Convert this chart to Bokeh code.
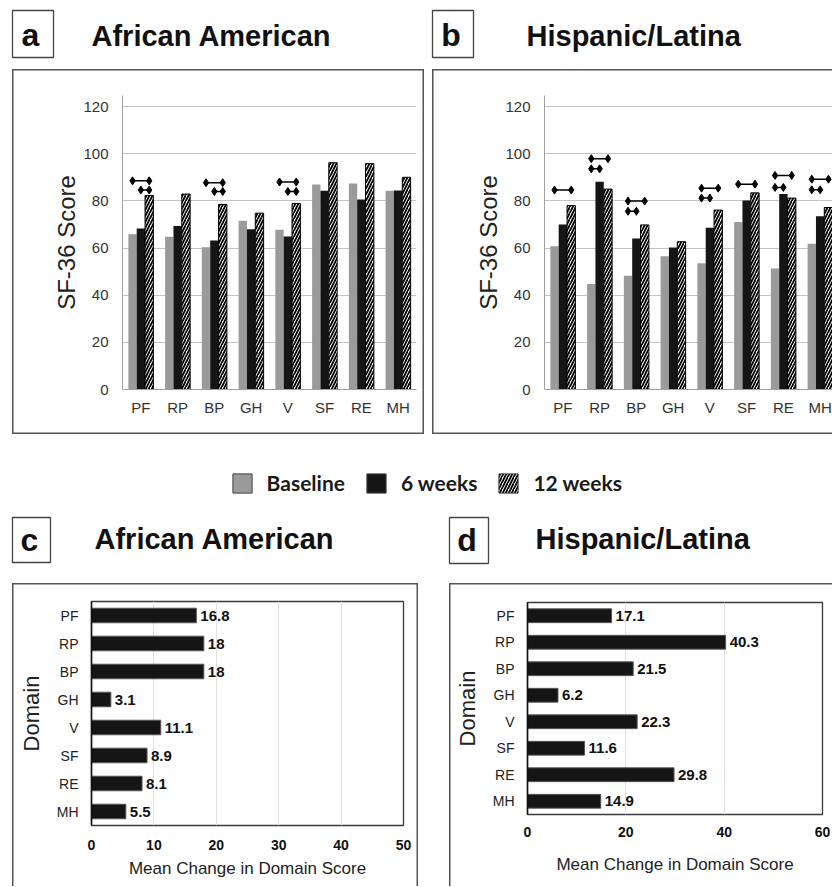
from bokeh.plotting import figure
from bokeh.models import (ColumnDataSource, FixedTicker, LabelSet, Legend, LegendItem,
                          FactorRange, Range1d)
from bokeh.layouts import column, row
from bokeh.transform import dodge
from bokeh.core.properties import value
from bokeh.embed import file_html
from bokeh.resources import INLINE

# ---------------- data ----------------
domains = ["PF", "RP", "BP", "GH", "V", "SF", "RE", "MH"]
series = ["Baseline", "6 weeks", "12 weeks"]

aa_baseline = [65.8, 64.8, 60.3, 71.6, 67.8, 87.0, 87.4, 84.3]
aa_6wk = [68.3, 69.3, 63.2, 68.0, 64.9, 84.3, 80.6, 84.4]
aa_12wk = [82.3, 82.9, 78.5, 74.8, 78.9, 96.2, 95.8, 90.0]

hl_baseline = [60.8, 44.8, 48.3, 56.5, 53.5, 71.0, 51.3, 61.8]
hl_6wk = [70.0, 88.1, 64.0, 60.2, 68.6, 80.2, 82.9, 73.5]
hl_12wk = [78.0, 85.0, 69.8, 62.7, 76.1, 83.4, 81.2, 77.2]

# significance brackets (domain, from series, to series, level)
aa_sig_domain = ["PF", "PF", "BP", "BP", "V", "V"]
aa_sig_from = ["Baseline", "6 weeks", "Baseline", "6 weeks", "Baseline", "6 weeks"]
aa_sig_to = ["12 weeks"] * 6
aa_sig_level = [88.5, 84.6, 87.7, 84.0, 88.0, 84.0]

hl_sig_domain = ["PF", "RP", "RP", "BP", "BP", "V", "V", "SF", "RE", "RE", "MH", "MH"]
hl_sig_from = ["Baseline"] * 12
hl_sig_to = ["12 weeks", "12 weeks", "6 weeks", "12 weeks", "6 weeks", "12 weeks", "6 weeks",
             "12 weeks", "12 weeks", "6 weeks", "12 weeks", "6 weeks"]
hl_sig_level = [84.6, 97.9, 93.6, 79.9, 75.6, 85.4, 81.2, 87.1, 90.8, 85.7, 89.2, 84.7]

aa_change = [16.8, 18, 18, 3.1, 11.1, 8.9, 8.1, 5.5]
hl_change = [17.1, 40.3, 21.5, 6.2, 22.3, 11.6, 29.8, 14.9]

y_ticks_sf = [0, 20, 40, 60, 80, 100, 120]
aa_change_ticks = [0, 10, 20, 30, 40, 50]
hl_change_ticks = [0, 20, 40, 60]

panel_letters = ["a", "b", "c", "d"]
panel_titles = ["African American", "Hispanic/Latina", "African American", "Hispanic/Latina"]

# ---------------- style ----------------
FONT = "Liberation Sans"
BAR_W = 0.227
OFFS = {"Baseline": -BAR_W, "6 weeks": 0.0, "12 weeks": BAR_W}
GRAY = "#9a9a9a"
BLACK = "#151515"
EDGE = "#555555"
HATCH = dict(hatch_pattern="/", hatch_color="black", hatch_scale=6, hatch_weight=1.8)


def panel_style(sides):
    shadows = []
    if "l" in sides:
        shadows.append(f"inset 1.5px 0 0 0 {EDGE}")
    if "r" in sides:
        shadows.append(f"inset -1.5px 0 0 0 {EDGE}")
    if "t" in sides:
        shadows.append(f"inset 0 1.5px 0 0 {EDGE}")
    if "b" in sides:
        shadows.append(f"inset 0 -1.5px 0 0 {EDGE}")
    return {"box-shadow": ", ".join(shadows)}


def header(y0, h, letters, titles, boxes, letter_pos, title_pos):
    p = figure(width=832, height=h, x_range=Range1d(0, 832), y_range=Range1d(y0 + h, y0),
               output_backend="svg", toolbar_location=None, tools="", min_border=0,
               x_axis_location=None, y_axis_location=None)
    p.outline_line_color = None
    p.grid.visible = False
    p.quad(left=[b[0] for b in boxes], right=[b[2] for b in boxes],
           top=[b[1] for b in boxes], bottom=[b[3] for b in boxes], fill_color=None,
           line_color="#444444", line_width=1.3)
    p.text(x=[q[0] for q in letter_pos], y=[q[1] for q in letter_pos], text=letters,
           text_font=value(FONT), text_font_style="bold", text_font_size="32px",
           text_align="center", text_baseline="middle", text_color="#111111")
    p.text(x=[q[0] for q in title_pos], y=[q[1] for q in title_pos], text=titles,
           text_font=value(FONT), text_font_style="bold", text_font_size="29px",
           text_align="left", text_baseline="middle", text_color="#111111")
    return p


def bar_panel(width, height, borders, x_end, base, wk6, wk12, sig_dom, sig_from, sig_to, sig_lvl,
              margin, sides):
    p = figure(width=width, height=height, x_range=Range1d(-0.5, x_end),
               y_range=Range1d(0, 124.7),
               output_backend="svg", toolbar_location=None, tools="",
               min_border_left=borders[0], min_border_right=borders[1],
               min_border_top=borders[2], min_border_bottom=borders[3],
               margin=margin, styles=panel_style(sides))
    p.border_fill_color = None
    src = ColumnDataSource(dict(x=list(range(len(domains))), base=base, wk6=wk6, wk12=wk12))
    p.vbar(x=dodge("x", OFFS["Baseline"], range=p.x_range), top="base", width=BAR_W, source=src,
           fill_color=GRAY, line_color=None)
    p.vbar(x=dodge("x", OFFS["6 weeks"], range=p.x_range), top="wk6", width=BAR_W, source=src,
           fill_color=BLACK, line_color=None)
    p.vbar(x=dodge("x", OFFS["12 weeks"], range=p.x_range), top="wk12", width=BAR_W, source=src,
           fill_color="white", line_color="black", line_width=1, **HATCH)
    idx = [domains.index(d) for d in sig_dom]
    x0 = [i + OFFS[f] for i, f in zip(idx, sig_from)]
    x1 = [i + OFFS[t] for i, t in zip(idx, sig_to)]
    ssrc = ColumnDataSource(dict(x0=x0, x1=x1, y=sig_lvl))
    p.segment(x0="x0", y0="y", x1="x1", y1="y", source=ssrc, line_color="black", line_width=1.5)
    msrc = ColumnDataSource(dict(x=x0 + x1, y=list(sig_lvl) + list(sig_lvl)))
    p.scatter(x="x", y="y", source=msrc, marker="diamond", size=8, color="black")

    p.xaxis.ticker = FixedTicker(ticks=list(range(len(domains))))
    p.xaxis.major_label_overrides = {i: d for i, d in enumerate(domains)}
    p.yaxis.ticker = FixedTicker(ticks=y_ticks_sf)
    p.xgrid.visible = False
    p.ygrid.grid_line_color = "#c4c4c4"
    p.axis.axis_line_color = "#a0a0a0"
    p.axis.major_tick_line_color = None
    p.axis.minor_tick_line_color = None
    p.axis.major_tick_out = 0
    p.axis.major_tick_in = 0
    p.axis.major_label_text_font = FONT
    p.axis.major_label_text_font_size = "15px"
    p.axis.major_label_text_color = "#333333"
    p.yaxis.major_label_standoff = 14
    p.xaxis.major_label_standoff = 9
    p.yaxis.axis_label = "SF-36 Score"
    p.yaxis.axis_label_text_font = FONT
    p.yaxis.axis_label_text_font_style = "normal"
    p.yaxis.axis_label_text_font_size = "24px"
    p.yaxis.axis_label_text_color = "#222222"
    p.yaxis.axis_label_standoff = 0
    p.outline_line_color = None
    return p


def change_panel(width, height, borders, x_end, ticks, values, margin, sides,
                 tick_standoff, xlab_standoff):
    p = figure(width=width, height=height, x_range=Range1d(0, x_end),
               y_range=FactorRange(factors=domains[::-1]),
               output_backend="svg", toolbar_location=None, tools="",
               min_border_left=borders[0], min_border_right=borders[1],
               min_border_top=borders[2], min_border_bottom=borders[3],
               margin=margin, styles=panel_style(sides))
    p.border_fill_color = None
    src = ColumnDataSource(dict(domain=domains, change=values,
                                label=[f"{v:g}" for v in values]))
    p.hbar(y="domain", right="change", height=0.52, source=src, fill_color=BLACK,
           line_color="#555555", line_width=1)
    p.add_layout(LabelSet(x="change", y="domain", text="label", source=src, x_offset=4,
                          text_baseline="middle", text_font=value(FONT), text_font_style="bold",
                          text_font_size="15px", text_color="#111111"))
    p.xaxis.ticker = FixedTicker(ticks=ticks)
    p.xgrid.grid_line_color = "#e2e2e2"
    p.ygrid.visible = False
    p.xaxis.axis_line_color = None
    p.yaxis.axis_line_color = "#111111"
    p.yaxis.axis_line_width = 1.5
    p.outline_line_color = "#3a3a3a"
    p.outline_line_width = 1.3
    p.axis.major_tick_line_color = None
    p.axis.minor_tick_line_color = None
    p.axis.major_tick_out = 0
    p.axis.major_tick_in = 0
    p.axis.major_label_text_font = FONT
    p.xaxis.major_label_text_font_style = "bold"
    p.xaxis.major_label_text_font_size = "14px"
    p.xaxis.major_label_text_color = "#111111"
    p.yaxis.major_label_text_font_size = "14px"
    p.yaxis.major_label_text_color = "#222222"
    p.yaxis.major_label_standoff = 13
    p.xaxis.major_label_standoff = tick_standoff
    p.xaxis.axis_label = "Mean Change in Domain Score"
    p.yaxis.axis_label = "Domain"
    p.axis.axis_label_text_font = FONT
    p.axis.axis_label_text_font_style = "normal"
    p.axis.axis_label_text_color = "#222222"
    p.xaxis.axis_label_text_font_size = "17px"
    p.yaxis.axis_label_text_font_size = "22px"
    p.yaxis.axis_label_standoff = 10
    p.xaxis.axis_label_standoff = xlab_standoff
    return p


# ---------------- row 1: panels a / b ----------------
head_1 = header(0, 69, panel_letters[:2], panel_titles[:2],
                [(12, 10, 53, 57), (432, 10, 473, 57)],
                [(30, 34), (450.5, 34)], [(91, 35), (526, 35)])
body_a = bar_panel(412, 365, (110, 8, 26, 45), 7.5, aa_baseline, aa_6wk, aa_12wk,
                   aa_sig_domain, aa_sig_from, aa_sig_to, aa_sig_level,
                   (0, 4, 21, 12), "lrtb")
body_b = bar_panel(400, 365, (112, 0, 26, 45), -0.5 + 288 / 36.75, hl_baseline, hl_6wk, hl_12wk,
                   hl_sig_domain, hl_sig_from, hl_sig_to, hl_sig_level,
                   (0, 0, 21, 4), "ltb")

# ---------------- legend ----------------
leg = figure(width=832, height=52, x_range=Range1d(0, 1), y_range=Range1d(0, 1),
             output_backend="svg", toolbar_location=None, tools="", min_border=0,
             x_axis_location=None, y_axis_location=None)
leg.outline_line_color = None
leg.grid.visible = False
r0 = leg.vbar(x=[0], top=[0], width=0, fill_color=GRAY, line_color="#404040", line_width=1)
r1 = leg.vbar(x=[0], top=[0], width=0, fill_color=BLACK, line_color="#404040", line_width=1)
r2 = leg.vbar(x=[0], top=[0], width=0, fill_color="white", line_color="#404040", line_width=1,
              **HATCH)
legend = Legend(items=[LegendItem(label=series[0], renderers=[r0]),
                       LegendItem(label=series[1], renderers=[r1]),
                       LegendItem(label=series[2], renderers=[r2])],
                orientation="horizontal", location=(229.6, 12), glyph_width=24, glyph_height=24,
                label_standoff=13, spacing=19, padding=0, margin=0, border_line_color=None,
                background_fill_alpha=0, label_text_font="Lato", label_text_font_style="bold",
                label_text_font_size="21px", label_text_color="#1a1a1a", label_height=24)
leg.add_layout(legend)

# ---------------- row 2: panels c / d ----------------
head_2 = header(507, 76, panel_letters[2:], panel_titles[2:],
                [(12, 517, 50, 562), (449, 517, 488, 563)],
                [(29, 539), (466.5, 539)], [(94, 538), (535, 538)])
body_c = change_panel(406, 303, (79, 15, 18, 61), 50, aa_change_ticks, aa_change,
                      (0, 10, 0, 12), "lrt", 14, 6)
body_d = change_panel(383, 303, (78, 10, 19, 72), 60, hl_change_ticks, hl_change,
                      (0, 0, 0, 21), "lt", 12, 15)

layout = column(head_1, row(column(body_a), column(body_b)), leg, head_2,
                row(column(body_c), column(body_d)))
open("out.html", "w").write(file_html(layout, INLINE))
